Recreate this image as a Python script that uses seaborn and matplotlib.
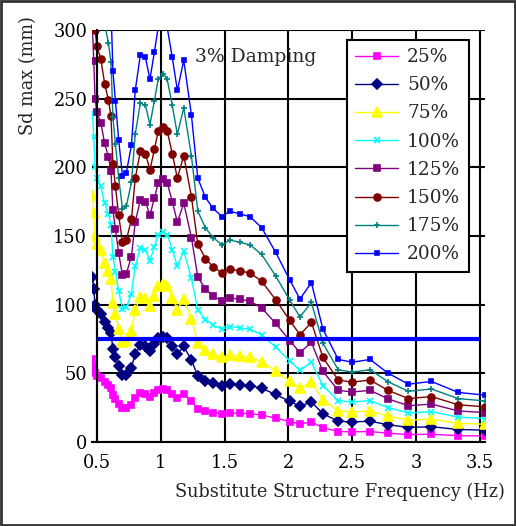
import seaborn as sns
import pandas as pd
import numpy as np
import matplotlib.pyplot as plt
from matplotlib.patches import Rectangle

# frequencies (Hz)
freq = [0.465, 0.475, 0.485, 0.50, 0.53, 0.56, 0.59, 0.61, 0.625, 0.645, 0.67, 0.70,
        0.73, 0.77, 0.80, 0.84, 0.88, 0.915, 0.95, 0.98, 1.02, 1.05, 1.09, 1.13, 1.18,
        1.24, 1.29, 1.35, 1.41, 1.48, 1.54, 1.62, 1.70, 1.79, 1.90, 2.01, 2.09, 2.18,
        2.27, 2.39, 2.50, 2.64, 2.78, 2.94, 3.12, 3.33, 3.54]

sd_25 = [60, 55.5, 50, 48, 46.5, 43.5, 41.5, 39.5, 33.8, 31, 27.5, 24.3, 24.5, 27, 32,
         35.3, 35, 33, 35.5, 37.8, 38.3, 37.8, 35, 32, 34.8, 29.8, 24, 22.3, 21.3, 20.5,
         21, 20.8, 20.5, 19.5, 17.3, 14.8, 13, 14.5, 10.3, 7.5, 7.3, 7.5, 6.3, 5.3, 5.5,
         4.5, 4.3]
sd_50 = [120, 111, 100, 96, 93, 87, 83, 79, 67.5, 62, 55, 48.5, 49, 54, 64, 70.5, 70, 66,
         71, 75.5, 76.5, 75.5, 70, 64, 69.5, 59.5, 48, 44.5, 42.5, 41, 42, 41.5, 41, 39,
         34.5, 29.5, 26, 29, 20.5, 15, 14.5, 15, 12.5, 10.5, 11, 9, 8.5]
sd_75 = [180, 166.5, 150, 144, 139.5, 130.5, 124.5, 118.5, 101.3, 93, 82.5, 72.8, 73.5,
         81, 96, 105.8, 105, 99, 106.5, 113.3, 114.8, 113.3, 105, 96, 104.3, 89.3, 72,
         66.8, 63.8, 61.5, 63, 62.3, 61.5, 58.5, 51.8, 44.3, 39, 43.5, 30.8, 22.5, 21.8,
         22.5, 18.8, 15.8, 16.5, 13.5, 12.8]
sd_100 = [240, 222, 200, 192, 186, 174, 166, 158, 135, 124, 110, 97, 98, 108, 128, 141,
          140, 132, 142, 151, 153, 151, 140, 128, 139, 119, 96, 89, 85, 82, 84, 83, 82,
          78, 69, 59, 52, 58, 41, 30, 29, 30, 25, 21, 22, 18, 17]
sd_125 = [300, 277.5, 250, 240, 232.5, 217.5, 207.5, 197.5, 168.8, 155, 137.5, 121.3,
          122.5, 135, 160, 176.3, 175, 165, 177.5, 188.8, 191.3, 188.8, 175, 160, 173.8,
          148.8, 120, 111.3, 106.3, 102.5, 105, 103.8, 102.5, 97.5, 86.3, 73.8, 65, 72.5,
          51.3, 37.5, 36.3, 37.5, 31.3, 26.3, 27.5, 22.5, 21.3]
sd_150 = [360, 333, 300, 288, 279, 261, 249, 237, 202.5, 186, 165, 145.5, 147, 162, 192,
          211.5, 210, 198, 213, 226.5, 229.5, 226.5, 210, 192, 208.5, 178.5, 144, 133.5,
          127.5, 123, 126, 124.5, 123, 117, 103.5, 88.5, 78, 87, 61.5, 45, 43.5, 45, 37.5,
          31.5, 33, 27, 25.5]
sd_175 = [420, 388.5, 350, 336, 325.5, 304.5, 290.5, 276.5, 236.3, 217, 192.5, 169.8,
          171.5, 189, 224, 246.8, 245, 231, 248.5, 264.3, 267.8, 264.3, 245, 224, 243.3,
          208.3, 168, 155.8, 148.8, 143.5, 147, 145.3, 143.5, 136.5, 120.8, 103.3, 91,
          101.5, 71.8, 52.5, 50.8, 52.5, 43.8, 36.8, 38.5, 31.5, 29.8]
sd_200 = [480, 444, 400, 384, 372, 348, 332, 316, 270, 248, 220, 194, 196, 216, 256, 282,
          280, 264, 284, 302, 306, 302, 280, 256, 278, 238, 192, 178, 170, 164, 168, 166,
          164, 156, 138, 118, 104, 116, 82, 60, 58, 60, 50, 42, 44, 36, 34]

labels = ["25%", "50%", "75%", "100%", "125%", "150%", "175%", "200%"]
series = [sd_25, sd_50, sd_75, sd_100, sd_125, sd_150, sd_175, sd_200]
threshold = 75

colors = ["#FF00FF", "#000080", "#FFFF00", "#00FFFF", "#800080", "#800000", "#008080", "#0000FF"]
markers = ["s", "D", "^", "x", "s", "o", "+", "s"]
msizes = [5, 5, 6.5, 4, 4, 5, 5, 3.5]

sns.set_style("white")
plt.rcParams['font.family'] = ['DejaVu Serif']

fig = plt.figure(figsize=(5.16, 5.26), dpi=100)
ax = fig.add_axes([0.178, 0.160, 0.762, 0.783])

for lab, vals, c, m, ms in zip(labels, series, colors, markers, msizes):
    df = pd.DataFrame({"freq": freq, "sd": vals})
    sns.lineplot(data=df, x="freq", y="sd", ax=ax, color=c, marker=m, markersize=ms,
                 markeredgecolor=c, markeredgewidth=1.2, linewidth=1, label=lab, sort=False)

ax.hlines(threshold, 0.5, 3.5, color="#0000FF", lw=3, zorder=5)

ax.set_xlim(0.46, 3.54)
ax.set_ylim(0, 300)
xt = [0.5, 1, 1.5, 2, 2.5, 3, 3.5]
ax.set_xticks(xt)
ax.set_xticklabels(["0.5", "1", "1.5", "2", "2.5", "3", "3.5"])
ax.set_yticks(np.arange(0, 301, 50))
ax.grid(True, color="black", lw=1.5)
ax.set_axisbelow(True)

for s in ["top", "right"]:
    ax.spines[s].set_visible(False)
ax.spines["left"].set_position(("data", 0.5))
ax.spines["left"].set_bounds(0, 300)
for s in ["left", "bottom"]:
    ax.spines[s].set_color("black")
    ax.spines[s].set_linewidth(1.5)
ax.tick_params(direction="inout", length=8, width=1.3, colors="black", labelsize=12.8)
ax.tick_params(axis="y", pad=3)
ax.tick_params(axis="x", pad=5)

ax.set_xlabel("Substitute Structure Frequency (Hz)", fontsize=12.8)
ax.xaxis.set_label_coords(0.631, -0.10)
ax.set_ylabel("Sd max (mm)", fontsize=12.8)
ax.yaxis.set_label_coords(-0.14, 0.89)

ax.text(1.27, 280, "3% Damping", fontsize=13.5, va="center", ha="left")

leg = ax.legend(loc="upper left", bbox_to_anchor=(0.649, 0.976), fontsize=13.3,
                frameon=True, fancybox=False, framealpha=1, edgecolor="black",
                handlelength=2.3, labelspacing=0.55, borderpad=0.45, handletextpad=0.5,
                borderaxespad=0)
leg.get_frame().set_linewidth(1.5)

fig.patches.append(Rectangle((0.002, 0.002), 0.996, 0.996, transform=fig.transFigure,
                             fill=False, edgecolor="#333333", lw=2))

fig.savefig("out.png", dpi=100)
